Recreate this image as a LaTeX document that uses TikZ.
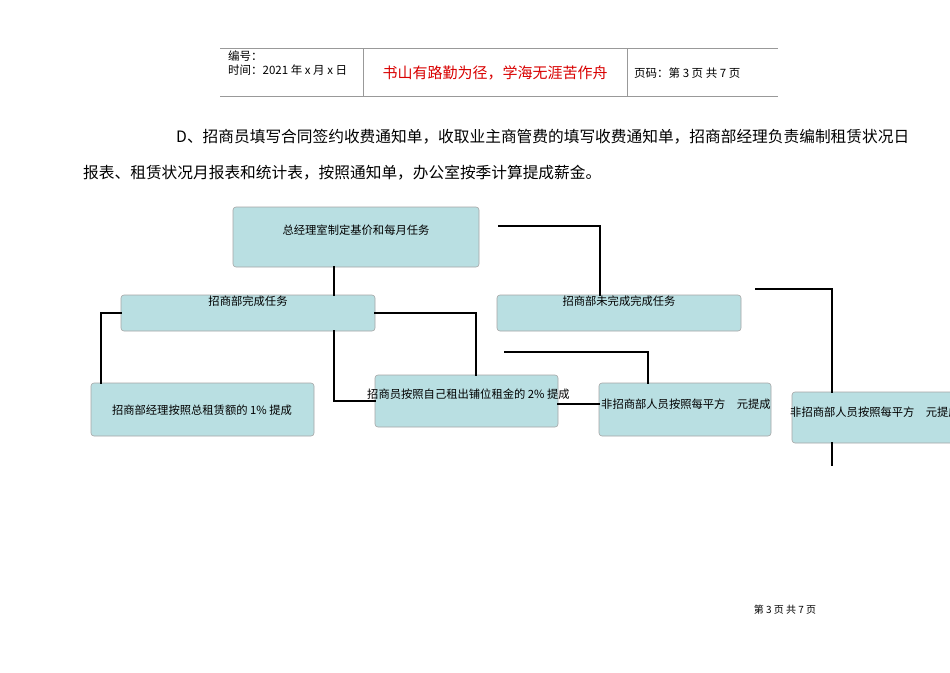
\documentclass[tikz,border=0pt]{standalone}
\usepackage{fontspec}
\setmainfont{Noto Sans CJK SC}
\definecolor{boxfill}{HTML}{B9DFE2}
\begin{document}
\begin{tikzpicture}[x=1pt,y=-1pt,
  bx/.style={draw=gray!70,fill=boxfill,rounded corners=3pt,line width=0.6pt},
  bt/.style={font=\fontsize{11.3}{13}\selectfont,inner sep=0pt},
  ln/.style={line width=2.4pt,line cap=rect},
  hl/.style={draw=gray!80,line width=0.8pt}]
\useasboundingbox (0,0) rectangle (950,672);
\clip (0,0) rectangle (950,672);
\fill[white] (0,0) rectangle (950,672);
% header
\draw[hl] (220,48) -- (778,48);
\draw[hl] (220,96) -- (778,96);
\draw[hl] (363,48) -- (363,96);
\draw[hl] (627,48) -- (627,96);
\node[anchor=west,inner sep=0pt,font=\fontsize{11.5}{13}\selectfont] (h1) at (228,56) {编号：};
\node[anchor=west,inner sep=0pt,font=\fontsize{11.5}{13}\selectfont] (h2) at (228,70) {时间：2021 年 x 月 x 日};
\node[inner sep=0pt,text=red!85!black,font=\fontsize{15}{17}\selectfont] (h3) at (495,73) {书山有路勤为径，学海无涯苦作舟};
\node[anchor=west,inner sep=0pt,font=\fontsize{11.5}{13}\selectfont] (h4) at (634,73) {页码：第 3 页\ 共 7 页};
% paragraph
\node[anchor=west,inner sep=0pt,font=\fontsize{15.7}{18}\selectfont] (p1) at (176,137) {D、招商员填写合同签约收费通知单，收取业主商管费的填写收费通知单，招商部经理负责编制租赁状况日};
\node[anchor=west,inner sep=0pt,font=\fontsize{15.7}{18}\selectfont] (p2) at (83,173) {报表、租赁状况月报表和统计表，按照通知单，办公室按季计算提成薪金。};
% boxes
\draw[bx] (233,207) rectangle (479,267);
\node[bt] (A) at (356,230) {总经理室制定基价和每月任务};
\draw[bx] (121,295) rectangle (375,331);
\node[bt] (B) at (248,301) {招商部完成任务};
\draw[bx] (497,295) rectangle (741,331);
\node[bt] (C) at (619,301) {招商部未完成完成任务};
\draw[bx] (91,383) rectangle (314,436);
\node[bt] (D) at (202,410) {招商部经理按照总租赁额的 1\% 提成};
\draw[bx] (375,375) rectangle (558,427);
\node[bt,anchor=west] (E) at (367,394) {招商员按照自己租出铺位租金的 2\% 提成};
\draw[bx] (599,383) rectangle (771,436);
\node[bt,anchor=west] (F) at (601,404) {非招商部人员按照每平方\quad 元提成};
\draw[bx] (792,392) rectangle (1000,443);
\node[bt,anchor=west] (G) at (790,412) {非招商部人员按照每平方\quad 元提成};
% connectors
\coordinate (a1) at (334,267); \coordinate (a2) at (334,295);
\draw[ln] (a1) -- (a2);
\coordinate (b1) at (121,313);
\draw[ln] (b1) -- (101,313) -- (101,383);
\draw[ln] (334,331) -- (334,401) -- (375,401);
\draw[ln] (375,313) -- (476,313) -- (476,375);
\draw[ln] (499,226) -- (600,226) -- (600,295);
\draw[ln] (505,352) -- (648,352) -- (648,383);
\draw[ln] (558,404) -- (599,404);
\draw[ln] (756,289) -- (832,289) -- (832,392);
\draw[ln] (832,443) -- (832,465);
% footer
\node[inner sep=0pt,font=\fontsize{10}{12}\selectfont] (ft) at (785,610) {第 3 页 共 7 页};
\end{tikzpicture}
\end{document}
